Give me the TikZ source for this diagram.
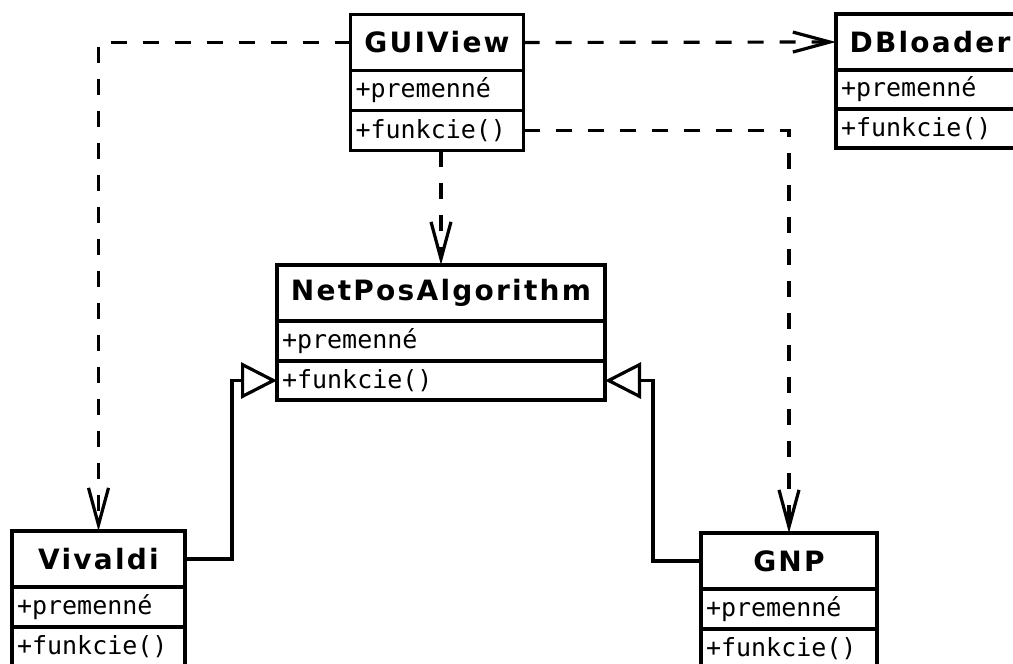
\documentclass[tikz,border=0pt]{standalone}
\usepackage{fontspec}
\setmainfont{DejaVu Sans}
\newfontfamily\clstitle{DejaVu Sans}[LetterSpace=8]
\newfontfamily\clsmono{DejaVu Sans Mono}
\usetikzlibrary{arrows.meta}
\tikzset{
  box/.style={draw, line width=3.2pt, fill=white, inner sep=0pt, outer sep=0pt, rectangle},
  ctitle/.style={box, minimum height=56pt, font=\clstitle\bfseries\fontsize{28}{32}\selectfont},
  member/.style={box, minimum height=40pt, inner xsep=5pt, align=left, anchor=north west,
    font=\clsmono\fontsize{25}{30}\selectfont},
  dep/.style={line width=3.2pt, dash pattern=on 16pt off 16pt,
    -{Straight Barb[length=37pt,width=20pt,line width=3.2pt]}},
  inh/.style={line width=3.2pt, line join=miter,
    -{Triangle[open,length=36pt,width=36pt,line width=3.2pt]}}
}
\begin{document}
\begin{tikzpicture}[x=1pt,y=-1pt]
\useasboundingbox (0,0) rectangle (1013,664);
\clip (0,0) rectangle (1013,664);
% GUIView
\node[ctitle, minimum width=173pt] (guit) at (437,42.5) {GUIView};
\node[member, text width=163pt] (guip) at (guit.south west) {+premenné};
\node[member, text width=163pt] (guif) at (guip.south west) {+funkcie()};
% DBloader
\node[ctitle, minimum width=188pt] (dbt) at (930,42) {DBloader};
\node[member, text width=178pt, minimum height=39pt] (dbp) at (dbt.south west) {+premenné};
\node[member, text width=178pt, minimum height=39pt] (dbf) at (dbp.south west) {+funkcie()};
% NetPosAlgorithm
\node[ctitle, minimum width=328pt] (npt) at (441,293) {NetPosAlgorithm};
\node[member, text width=318pt] (npp) at (npt.south west) {+premenné};
\node[member, text width=318pt, minimum height=39pt] (npf) at (npp.south west) {+funkcie()};
% Vivaldi
\node[ctitle, minimum width=173pt] (vivt) at (98.5,559) {Vivaldi};
\node[member, text width=163pt] (vivp) at (vivt.south west) {+premenné};
\node[member, text width=163pt] (vivf) at (vivp.south west) {+funkcie()};
% GNP
\node[ctitle, minimum width=176pt] (gnpt) at (789,561) {GNP};
\node[member, text width=166pt] (gnpp) at (gnpt.south west) {+premenné};
\node[member, text width=166pt] (gnpf) at (gnpp.south west) {+funkcie()};
% connectors
\draw[dep] (guit.west) -| (vivt.north);
\draw[dep] (guit.east) -- (dbt.west);
\draw[dep] (guif.east) -| (gnpt.north);
\draw[dep] (guif.south -| npt.north) -- (npt.north);
\draw[inh] (vivt.east) -- ++(47,0) |- (npf.west);
\draw[inh] (gnpt.west) -- ++(-48,0) |- (npf.east);
\end{tikzpicture}
\end{document}
